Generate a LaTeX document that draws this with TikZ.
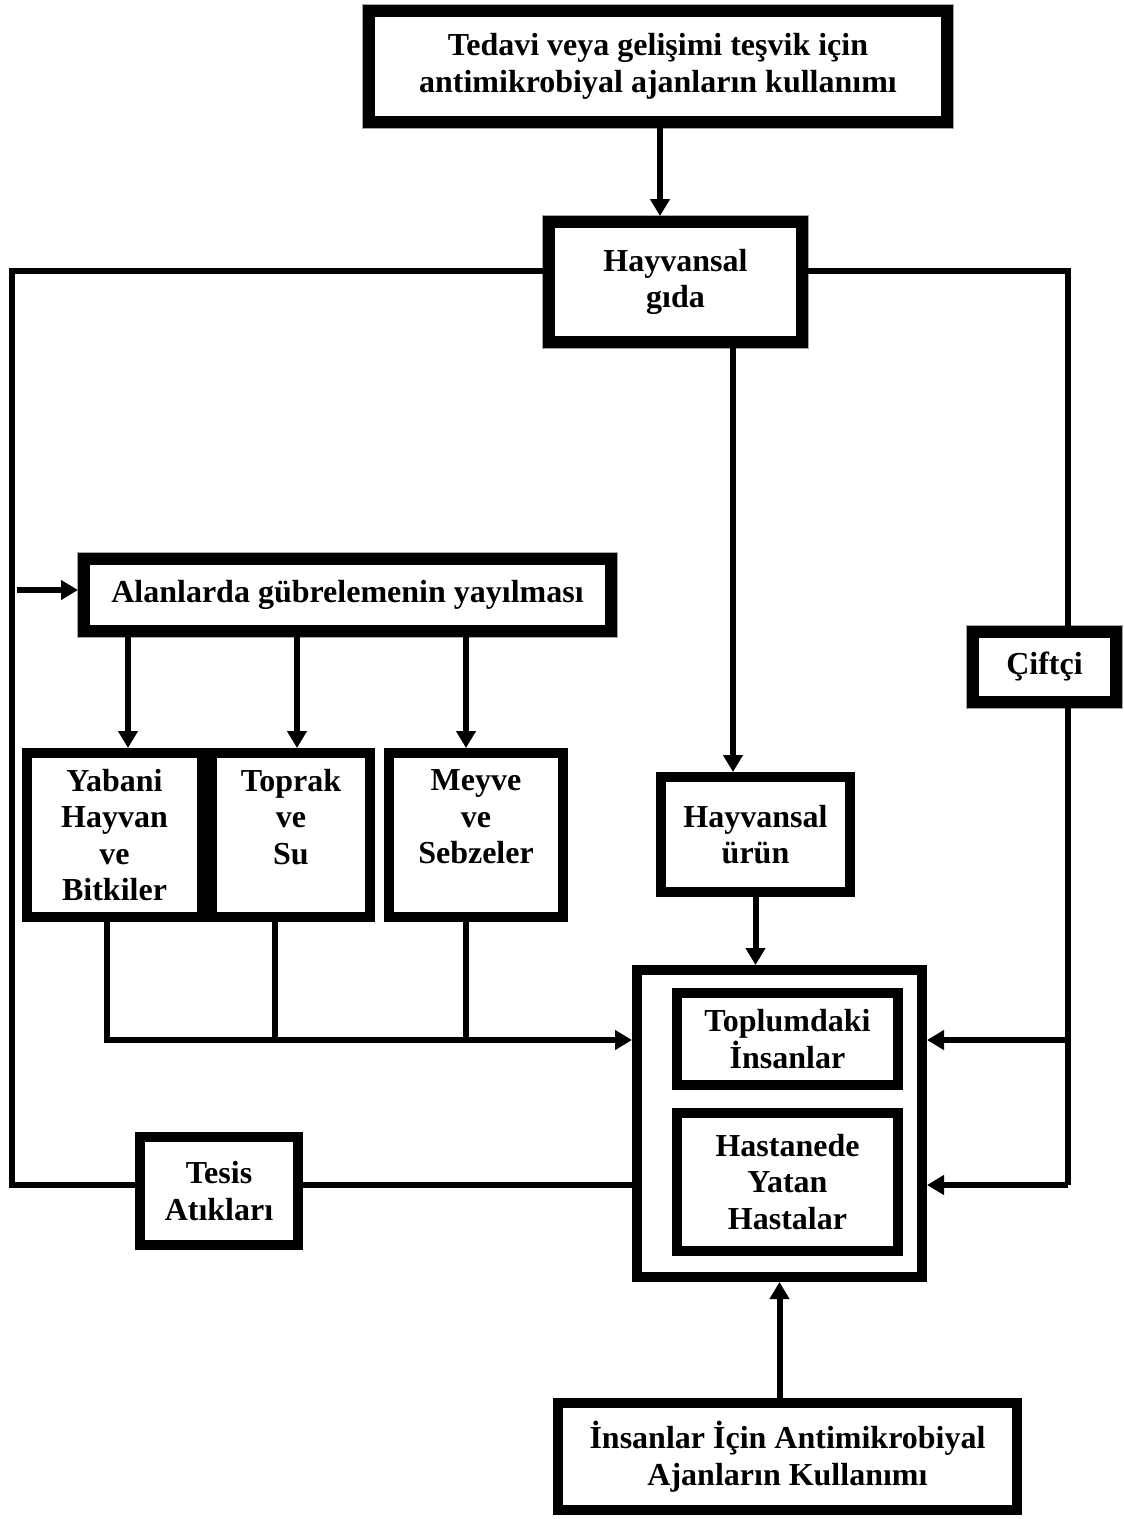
\documentclass[tikz,border=0pt]{standalone}
\usepackage{fontspec}
\setmainfont{Liberation Serif}
\usetikzlibrary{arrows.meta,calc}
\tikzset{
  box/.style={draw, line width=10pt, fill=white, inner sep=0pt, align=center,
    font=\bfseries\fontsize{32}{36.5}\selectfont},
  sbox/.style={box, line width=12pt, preaction={draw=gray!70, line width=14pt}},
  conn/.style={line width=6pt, line join=miter},
  arr/.style={conn, -{Triangle[length=17pt,width=19pt]}},
}
\begin{document}
\begin{tikzpicture}[x=1pt,y=-1pt]
\fill[white] (0,0) rectangle (1124,1519);
\useasboundingbox (0,0) rectangle (1124,1519);

% boxes
\node[sbox, minimum width=578pt, minimum height=111pt] (top) at (658,66.5)
  {Tedavi veya gelişimi teşvik için\\antimikrobiyal ajanların kullanımı};
\node[sbox, minimum width=253pt, minimum height=120pt] (hg) at (675.5,282) {Hayvansal\\gıda};
\node[sbox, minimum width=527pt, minimum height=72pt] (al) at (347.5,595) {Alanlarda gübrelemenin yayılması};
\node[sbox, minimum width=143pt, minimum height=70pt] (cf) at (1044.5,667) {Çiftçi};

\node[box, minimum width=175pt, minimum height=164pt] (yb) at (114.5,835) {Yabani\\Hayvan\\ve\\Bitkiler};
\node[box, minimum width=158pt, minimum height=164pt] (tp) at (291,835) {Toprak\\ve\\Su\\\mbox{}};
\node[box, minimum width=174pt, minimum height=164pt] (mv) at (476,835) {Meyve\\ve\\Sebzeler\\\mbox{}};
\node[box, minimum width=189pt, minimum height=115pt] (hu) at (755.5,834.5) {Hayvansal\\ürün};

\node[box, minimum width=285pt, minimum height=307pt] (bb) at (779.5,1123.5) {};
\node[box, minimum width=221pt, minimum height=92pt] (ti) at (787.5,1039) {Toplumdaki\\İnsanlar};
\node[box, minimum width=221pt, minimum height=138pt] (hh) at (787.5,1182) {Hastanede\\Yatan\\Hastalar};
\node[box, minimum width=158pt, minimum height=108pt] (ts) at (219,1191) {Tesis\\Atıkları};
\node[box, minimum width=459pt, minimum height=107pt] (bt) at (787.5,1456.5)
  {İnsanlar İçin Antimikrobiyal\\Ajanların Kullanımı};

% coordinates
\coordinate (tx) at (660,0);
\coordinate (hx) at (733,0);
\coordinate (lt) at (12,271);
\coordinate (lb) at (12,1185);
\coordinate (aS) at (17,590);
\coordinate (rt) at (1068,271);
\coordinate (rb) at (1068,1185);
\coordinate (r1) at (1068,1040);
\coordinate (a1) at (128,0);
\coordinate (a2) at (297,0);
\coordinate (a3) at (466,0);
\coordinate (b1) at (107,1040);
\coordinate (b2) at (275,1040);
\coordinate (b3) at (466,1040);

% connectors
\draw[arr] (top.south -| tx) -- (hg.north -| tx);
\draw[conn] (hg.west |- lt) -- (lt) -- (lb) -- (ts.west |- lb);
\draw[arr] (aS) -- (al.west |- aS);
\draw[conn] (hg.east |- rt) -- (rt) -- (cf.north -| rt);
\draw[conn] (cf.south -| rt) -- (rb);
\draw[arr] (rb) -- (bb.east |- rb);
\draw[arr] (r1) -- (bb.east |- r1);
\draw[conn] (ts.east |- rb) -- (bb.west |- rb);
\draw[arr] (hg.south -| hx) -- (hu.north -| hx);
\draw[arr] (hu.south) -- (hu.south |- bb.north);
\draw[arr] (al.south -| a1) -- (yb.north -| a1);
\draw[arr] (al.south -| a2) -- (tp.north -| a2);
\draw[arr] (al.south -| a3) -- (mv.north -| a3);
\draw[arr] (yb.south -| b1) -- (b1) -- (bb.west |- b1);
\draw[conn] (tp.south -| b2) -- (b2);
\draw[conn] (mv.south -| b3) -- (b3);
\draw[arr] (bt.north -| bb.south) -- (bb.south);
\end{tikzpicture}
\end{document}
